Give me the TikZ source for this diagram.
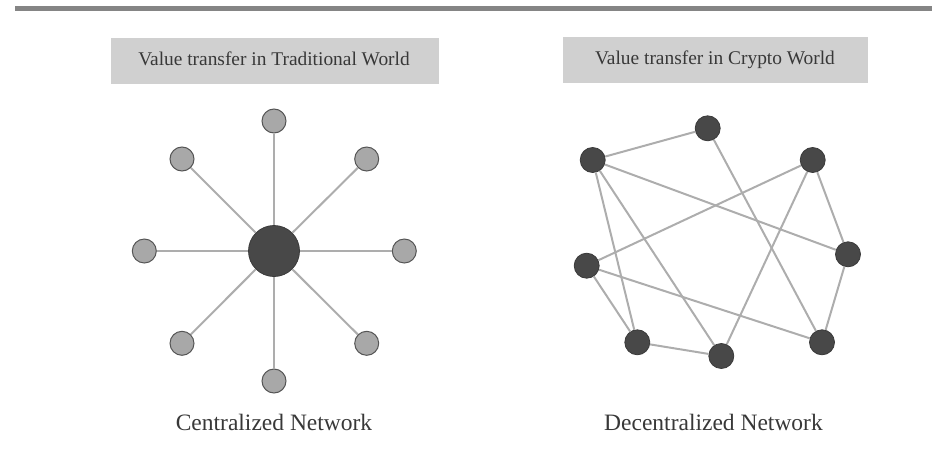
\documentclass[tikz,border=0pt]{standalone}
\usepackage{fontspec}
\setmainfont{Liberation Serif}
\definecolor{barcol}{HTML}{858585}
\definecolor{boxcol}{HTML}{D0D0D0}
\definecolor{txtcol}{HTML}{383838}
\definecolor{edgecol}{HTML}{ADADAD}
\definecolor{lightnode}{HTML}{A8A8A8}
\definecolor{lightborder}{HTML}{555555}
\definecolor{darknode}{HTML}{484848}
\definecolor{darkborder}{HTML}{3A3A3A}
\begin{document}
\begin{tikzpicture}[x=1pt,y=-1pt,
  titlebox/.style={fill=boxcol,draw=none},
  titletext/.style={text=txtcol,inner sep=0pt,anchor=base,font=\fontsize{19.4}{22}\selectfont},
  captext/.style={text=txtcol,inner sep=0pt,anchor=base,font=\fontsize{23.5}{26}\selectfont},
  leaf/.style={circle,fill=lightnode,draw=lightborder,line width=1pt,minimum size=24pt,inner sep=0pt},
  hub/.style={circle,fill=darknode,draw=darkborder,line width=0.8pt,minimum size=51pt,inner sep=0pt},
  peer/.style={circle,fill=darknode,draw=darkborder,line width=0.8pt,minimum size=25pt,inner sep=0pt},
  link/.style={draw=edgecol,line width=2pt}]
\useasboundingbox (0,0) rectangle (932,458);
% top bar
\fill[barcol] (15,6) rectangle (932,11);
% title boxes
\fill[titlebox] (111,38) rectangle (439,84);
\fill[titlebox] (563,37) rectangle (868,83);
\node[titletext] (t1) at (274,65) {Value transfer in Traditional World};
\node[titletext] (t2) at (715,64) {Value transfer in Crypto World};
% centralized network
\node[hub] (h) at (274,251) {};
\node[leaf] (n1) at (274,121) {};
\node[leaf] (n2) at (366.7,159) {};
\node[leaf] (n3) at (404.3,251) {};
\node[leaf] (n4) at (366.7,343.3) {};
\node[leaf] (n5) at (274,381) {};
\node[leaf] (n6) at (182,343.3) {};
\node[leaf] (n7) at (144.3,251) {};
\node[leaf] (n8) at (182,159) {};
\foreach \n in {n1,n2,n3,n4,n5,n6,n7,n8} \draw[link] (h) -- (\n);
% decentralized network
\node[peer] (A) at (707.7,128.3) {};
\node[peer] (B) at (592.7,160) {};
\node[peer] (C) at (812.7,160) {};
\node[peer] (D) at (848,254.3) {};
\node[peer] (E) at (586.7,265.7) {};
\node[peer] (F) at (637.3,342.3) {};
\node[peer] (G) at (721.3,356) {};
\node[peer] (H) at (822,342.3) {};
\foreach \a/\b in {B/A,A/H,B/D,B/F,B/G,C/E,C/G,C/D,D/H,E/H,E/F,F/G} \draw[link] (\a) -- (\b);
% captions
\node[captext] (c1) at (274,430) {Centralized Network};
\node[captext] (c2) at (713.5,430) {Decentralized Network};
\end{tikzpicture}
\end{document}
